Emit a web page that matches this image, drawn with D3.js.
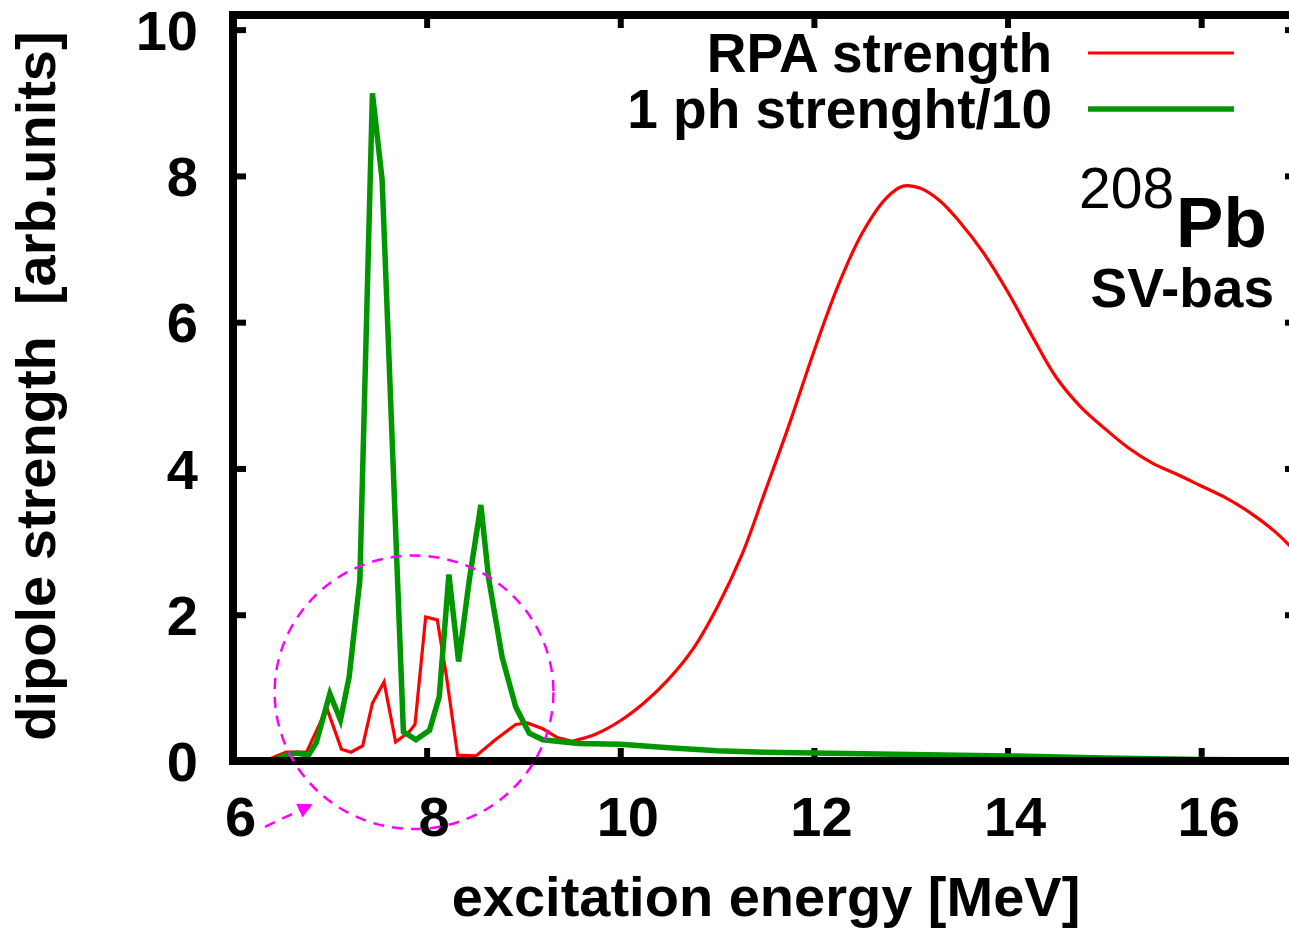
<!DOCTYPE html>
<html>
<head>
<meta charset="utf-8">
<script src="https://cdn.jsdelivr.net/npm/d3@7"></script>
<style>
  body { margin: 0; background: #fff; }
  text { font-family: "Liberation Sans", Arial, Helvetica, sans-serif; }
</style>
</head>
<body>
<svg id="chart"></svg>
<script>
// RPA strength (red): spiky low-energy part, then the smooth giant resonance
const rpaLowEnergy = [6.40, 6.55, 6.76, 6.97, 7.12, 7.22, 7.34, 7.44, 7.56, 7.68, 7.82, 7.88, 7.99, 8.11, 8.20, 8.32, 8.51, 8.71, 8.92, 9.04, 9.20, 9.35, 9.50];
const rpaLowStrength = [0.04, 0.12, 0.12, 0.72, 0.16, 0.12, 0.21, 0.79, 1.08, 0.26, 0.40, 0.50, 1.97, 1.93, 1.20, 0.08, 0.07, 0.29, 0.50, 0.52, 0.44, 0.32, 0.27];
const rpaHighEnergy = [9.50, 9.75, 10.0, 10.25, 10.5, 10.75, 11.0, 11.25, 11.5, 11.75, 12.0, 12.25, 12.5, 12.75, 12.92, 13.1, 13.3, 13.5, 13.75,
  14.0, 14.25, 14.5, 14.75, 15.0, 15.25, 15.5, 15.75, 16.0, 16.25, 16.5, 16.75, 17.0];
const rpaHighStrength = [0.27, 0.37, 0.55, 0.80, 1.12, 1.53, 2.10, 2.80, 3.70, 4.62, 5.60, 6.50, 7.22, 7.70, 7.86, 7.83, 7.66, 7.38, 6.95,
  6.42, 5.82, 5.25, 4.85, 4.55, 4.28, 4.07, 3.92, 3.76, 3.60, 3.40, 3.15, 2.83];

// 1 ph strength / 10 (green)
const phEnergy = [6.45, 6.55, 6.66, 6.78, 6.86, 7.00, 7.11, 7.20, 7.31, 7.44, 7.54, 7.76, 7.89, 8.03, 8.13, 8.23, 8.33, 8.44, 8.56, 8.64, 8.78, 8.92, 9.06, 9.20, 9.57,
  10.0, 10.5, 11.0, 11.5, 12.0, 13.0, 14.0, 15.0, 16.0, 17.0];
const phStrength = [0.03, 0.08, 0.11, 0.08, 0.25, 0.92, 0.56, 1.15, 2.47, 9.13, 7.95, 0.40, 0.29, 0.42, 0.88, 2.55, 1.36, 2.47, 3.50, 2.50, 1.42, 0.74, 0.38, 0.29, 0.24,
  0.23, 0.18, 0.14, 0.12, 0.11, 0.09, 0.07, 0.04, 0.02, 0.01];

const xTicks = [6, 8, 10, 12, 14, 16];
const yTicks = [0, 2, 4, 6, 8, 10];
const legendLabels = ["RPA strength", "1 ph strenght/10"];
const colors = ["#ff0000", "#009600"];

const width = 1289, height = 932;
const plotLeft = 233, plotRight = 1298, plotTop = 15, plotBottom = 761;

const x = d3.scaleLinear().domain([6, 17]).range([plotLeft, plotRight]);
const y = d3.scaleLinear().domain([0, 10.2]).range([plotBottom, plotTop]);

const svg = d3.select("#chart")
  .attr("width", width)
  .attr("height", height);

const defs = svg.append("defs");
defs.append("clipPath").attr("id", "plotClip")
  .append("rect")
  .attr("x", plotLeft).attr("y", plotTop)
  .attr("width", plotRight - plotLeft).attr("height", plotBottom - plotTop);

const fontSize = 56;

// axes with inward ticks
function styleAxis(g) {
  g.select(".domain").remove();
  g.selectAll(".tick line").attr("stroke", "#000").attr("stroke-width", 6);
  g.selectAll(".tick text")
    .attr("fill", "#000")
    .attr("font-size", fontSize)
    .attr("font-weight", "bold")
    .attr("font-family", "Liberation Sans, Arial, sans-serif");
}

svg.append("g")
  .attr("transform", `translate(0,${plotBottom})`)
  .call(d3.axisBottom(x).tickValues(xTicks).tickSize(-13).tickPadding(35).tickSizeOuter(0))
  .call(styleAxis)
  .call(g => g.selectAll(".tick text").attr("dx", 7));

svg.append("g")
  .attr("transform", `translate(0,${plotTop})`)
  .call(d3.axisTop(x).tickValues(xTicks).tickSize(-13).tickFormat("").tickSizeOuter(0))
  .call(styleAxis);

svg.append("g")
  .attr("transform", `translate(${plotLeft},0)`)
  .call(d3.axisLeft(y).tickValues(yTicks).tickSize(-13).tickPadding(35).tickSizeOuter(0))
  .call(styleAxis)
  .call(g => g.selectAll(".tick text").attr("dy", "0.35em"));

svg.append("g")
  .attr("transform", `translate(${plotRight},0)`)
  .call(d3.axisRight(y).tickValues(yTicks).tickSize(-13).tickFormat("").tickSizeOuter(0))
  .call(styleAxis);

// curves
const series = [
  { energy: rpaLowEnergy, strength: rpaLowStrength, color: colors[0], w: 3.2, curve: d3.curveLinear },
  { energy: rpaHighEnergy, strength: rpaHighStrength, color: colors[0], w: 3.2, curve: d3.curveCatmullRom },
  { energy: phEnergy, strength: phStrength, color: colors[1], w: 5.5, curve: d3.curveLinear }
];

svg.append("g")
  .attr("clip-path", "url(#plotClip)")
  .selectAll("path")
  .data(series)
  .join("path")
  .attr("d", s => d3.line().x(d => x(d[0])).y(d => y(d[1])).curve(s.curve)(d3.zip(s.energy, s.strength)))
  .attr("fill", "none")
  .attr("stroke", s => s.color)
  .attr("stroke-width", s => s.w)
  .attr("stroke-linejoin", "miter");

// border
svg.append("rect")
  .attr("x", plotLeft).attr("y", plotTop)
  .attr("width", plotRight - plotLeft).attr("height", plotBottom - plotTop)
  .attr("fill", "none")
  .attr("stroke", "#000")
  .attr("stroke-width", 8);

// legend
const legendWidths = [3.2, 5.5];
const legend = svg.append("g");
legendLabels.forEach((label, i) => {
  const ly = 53 + i * 56;
  legend.append("text")
    .attr("x", 1052).attr("y", ly + 19)
    .attr("text-anchor", "end")
    .attr("font-size", 55)
    .attr("font-weight", "bold")
    .text(label);
  legend.append("line")
    .attr("x1", 1088).attr("x2", 1234)
    .attr("y1", ly).attr("y2", ly)
    .attr("stroke", colors[i])
    .attr("stroke-width", legendWidths[i]);
});

// nucleus label
const nuc = svg.append("text")
  .attr("x", 1079).attr("y", 247)
  .attr("font-weight", "bold");
nuc.append("tspan").attr("font-size", 57).attr("font-weight", "normal").attr("dy", -39).text("208");
nuc.append("tspan").attr("font-size", 71).attr("dx", 2).attr("dy", 39).text("Pb");

svg.append("text")
  .attr("x", 1274).attr("y", 307)
  .attr("text-anchor", "end")
  .attr("font-size", 55)
  .attr("font-weight", "bold")
  .text("SV-bas");

// axis titles
svg.append("text")
  .attr("x", 766).attr("y", 916)
  .attr("text-anchor", "middle")
  .attr("font-size", fontSize)
  .attr("font-weight", "bold")
  .text("excitation energy [MeV]");

svg.append("text")
  .attr("transform", "translate(55,386) rotate(-90)")
  .attr("text-anchor", "middle")
  .attr("font-size", fontSize)
  .attr("font-weight", "bold")
  .style("white-space", "pre")
  .text("dipole strength  [arb.units]");

// dashed magenta annotation around the low-energy region
const ring = { cx: 7.87, cy: 0.94, rx: 1.44, ry: 1.87 };
svg.append("ellipse")
  .attr("cx", x(ring.cx)).attr("cy", y(ring.cy))
  .attr("rx", x(ring.cx + ring.rx) - x(ring.cx))
  .attr("ry", y(0) - y(ring.ry))
  .attr("fill", "none")
  .attr("stroke", "#ff00ff")
  .attr("stroke-width", 2.5)
  .attr("stroke-dasharray", "11,8");

defs.append("marker")
  .attr("id", "arrow")
  .attr("viewBox", "0 0 10 10")
  .attr("refX", 9).attr("refY", 5)
  .attr("markerWidth", 6).attr("markerHeight", 6)
  .attr("markerUnits", "strokeWidth")
  .attr("orient", "auto")
  .append("path").attr("d", "M0,0 L10,5 L0,10 Z").attr("fill", "#ff00ff");

const arrowFrom = [6.33, -0.90], arrowTo = [6.81, -0.60];
svg.append("line")
  .attr("x1", x(arrowFrom[0])).attr("y1", y(arrowFrom[1]))
  .attr("x2", x(arrowTo[0])).attr("y2", y(arrowTo[1]))
  .attr("stroke", "#ff00ff")
  .attr("stroke-width", 2.5)
  .attr("stroke-dasharray", "11,8")
  .attr("marker-end", "url(#arrow)");
</script>
</body>
</html>
